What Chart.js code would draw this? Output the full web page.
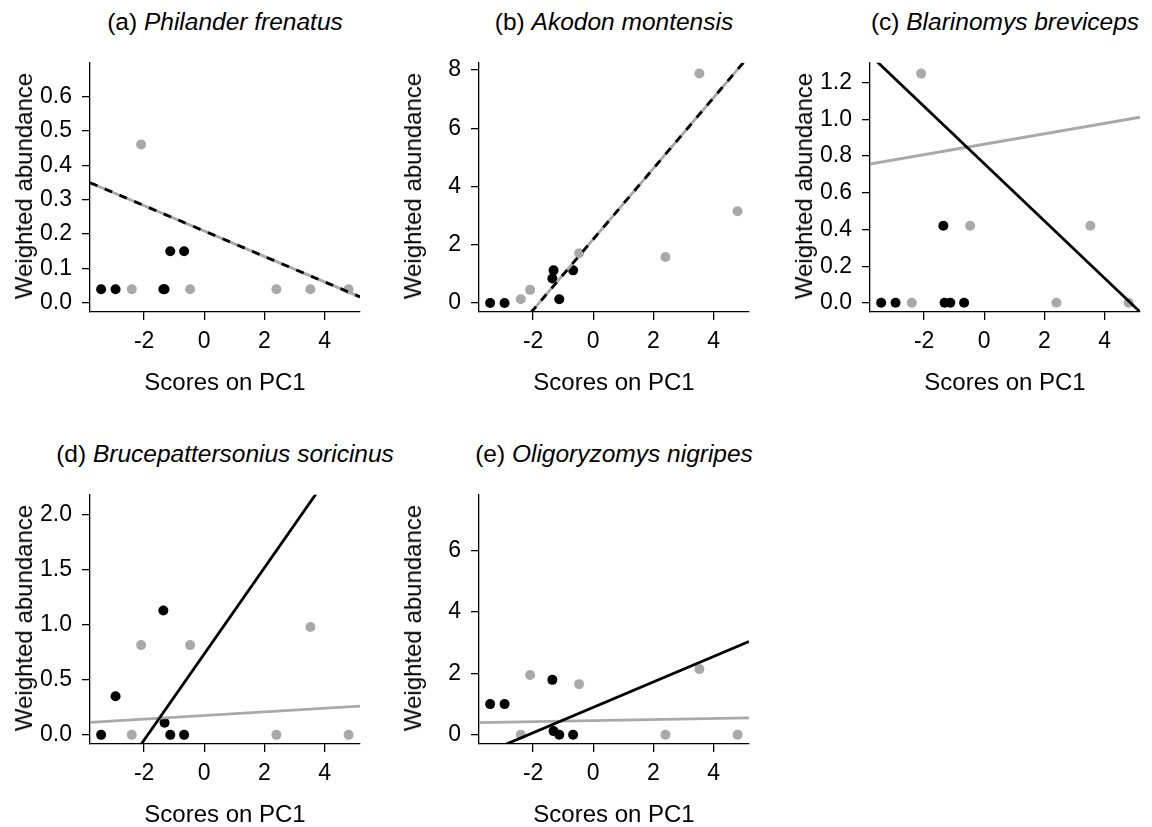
<!DOCTYPE html>
<html lang="en">
<head>
<meta charset="UTF-8">
<title>Weighted abundance vs PC1 scores</title>
<script src="https://cdn.jsdelivr.net/npm/chart.js"></script>
<style>
  html, body { margin: 0; padding: 0; background: #fff; overflow: hidden; }
  #fig { position: relative; width: 1152px; height: 827px; font-family: 'Liberation Sans', Arial, Helvetica, sans-serif; color: #000; }
  #fig canvas { position: absolute; }
  .lbl { position: absolute; font-size: 24px; line-height: 1; white-space: nowrap; }
</style>
</head>
<body>
<div id="fig"></div>

<script>
// site scores on PC1 (black = one habitat group, grey = the other)
const blackX = [-3.43, -2.95, -1.36, -1.32, -1.13, -0.67];
const greyX  = [-2.41, -2.10, -0.47, 2.40, 3.53, 4.80];

const species = ['Philander frenatus', 'Akodon montensis', 'Blarinomys breviceps',
                 'Brucepattersonius soricinus', 'Oligoryzomys nigripes'];
const letters = ['a', 'b', 'c', 'd', 'e'];

// weighted abundance per species
const philanderBlack = [0.04, 0.04, 0.04, 0.04, 0.15, 0.15];
const philanderGrey  = [0.04, 0.46, 0.04, 0.04, 0.04, 0.04];
const akodonBlack    = [0, 0, 0.84, 1.12, 0.13, 1.12];
const akodonGrey     = [0.13, 0.45, 1.71, 1.58, 7.88, 3.15];
const blarinomysBlack = [0, 0, 0.42, 0, 0, 0];
const blarinomysGrey  = [0, 1.25, 0.42, 0, 0.42, 0];
const bruceBlack     = [0, 0.35, 1.13, 0.11, 0, 0];
const bruceGrey      = [0, 0.815, 0.815, 0, 0.98, 0];
const oligoBlack     = [1.0, 1.0, 1.79, 0.12, 0, 0];
const oligoGrey      = [0, 1.95, 1.65, 0, 2.14, 0];

// fitted lines (intercept, slope)
const blackIntercept = [0.209, 2.19, 0.759, 0.735, 0.894];
const blackSlope     = [-0.0369, 1.215, -0.156, 0.391, 0.414];
const greyIntercept  = [0.209, 2.19, 0.865, 0.176, 0.46];
const greySlope      = [-0.0369, 1.215, 0.0284, 0.0164, 0.017];
const sameFit        = [true, true, false, false, false];

// tick labels
const xTicks = [-2, 0, 2, 4];
const yTicks = [
  [0, 0.1, 0.2, 0.3, 0.4, 0.5, 0.6],
  [0, 2, 4, 6, 8],
  [0, 0.2, 0.4, 0.6, 0.8, 1.0, 1.2],
  [0, 0.5, 1.0, 1.5, 2.0],
  [0, 2, 4, 6]
];
const yDecimals = [1, 0, 1, 1, 0];

const blackVals = [philanderBlack, akodonBlack, blarinomysBlack, bruceBlack, oligoBlack];
const greyVals  = [philanderGrey, akodonGrey, blarinomysGrey, bruceGrey, oligoGrey];

// axis ranges
const xMin = -3.8, xMax = 5.18;
const yMins = [-0.026, -0.31, -0.05, -0.083, -0.30];
const yMaxs = [0.697, 8.25, 1.309, 2.18, 7.82];

// plot areas on the page: left, top
const plotPos = [[90, 59], [479, 59], [870, 59], [90, 491], [479, 491]];
const plotW = 270, plotH = 253;
const padL = 90, padT = 20, padR = 15, padB = 60;

const GREY = '#a9a9a9';
Chart.defaults.font.family = "'Liberation Sans', Arial, Helvetica, sans-serif";
Chart.defaults.color = '#000';

const fig = document.getElementById('fig');

function addLabel(html, x, baseline, rotate, size) {
  const d = document.createElement('div');
  d.className = 'lbl';
  d.innerHTML = html;
  if (size) d.style.fontSize = size + 'px';
  fig.appendChild(d);
  const fs = size || 24;
  const off = fs * 0.8465;
  if (rotate) {
    // baseline sits on the right side after rotation
    d.style.left = (x - (off - fs / 2)) + 'px';
    d.style.top = baseline + 'px';
    d.style.transform = 'translate(-50%, -50%) rotate(-90deg)';
  } else {
    d.style.left = x + 'px';
    d.style.top = (baseline - off) + 'px';
    d.style.transform = 'translateX(-50%)';
  }
}

function pts(xs, ys) {
  return xs.map((x, i) => ({ x: x, y: ys[i] }));
}

function fitLine(a, b) {
  return [{ x: xMin, y: a + b * xMin }, { x: xMax, y: a + b * xMax }];
}

for (let p = 0; p < 5; p++) {
  const [L, T] = plotPos[p];
  const cv = document.createElement('canvas');
  cv.width = padL + plotW + padR;
  cv.height = padT + plotH + padB;
  cv.style.left = (L - padL) + 'px';
  cv.style.top = (T - padT) + 'px';
  fig.appendChild(cv);

  const datasets = [
    {
      data: fitLine(blackIntercept[p], blackSlope[p]),
      showLine: true, pointRadius: 0, borderColor: '#000', borderWidth: 2.8,
      borderDash: sameFit[p] ? [8, 8] : [], clip: 0, order: 0
    },
    {
      data: fitLine(greyIntercept[p], greySlope[p]),
      showLine: true, pointRadius: 0, borderColor: GREY, borderWidth: 2.8,
      clip: 0, order: 1
    },
    {
      data: pts(blackX, blackVals[p]),
      pointRadius: 5, backgroundColor: '#000', borderWidth: 0, clip: false, order: 2
    },
    {
      data: pts(greyX, greyVals[p]),
      pointRadius: 5, backgroundColor: GREY, borderWidth: 0, clip: false, order: 3
    }
  ];

  const axisCommon = {
    type: 'linear',
    grid: { drawOnChartArea: false, drawTicks: true, tickLength: 8, color: '#000', lineWidth: 1.3 },
    border: { display: true, color: '#000', width: 1.3 }
  };

  new Chart(cv.getContext('2d'), {
    type: 'scatter',
    data: { datasets: datasets },
    options: {
      responsive: false,
      animation: false,
      layout: { padding: { left: 0, top: padT, right: padR, bottom: 0 } },
      plugins: { legend: { display: false }, tooltip: { enabled: false } },
      scales: {
        x: Object.assign({}, axisCommon, {
          min: xMin, max: xMax,
          afterBuildTicks: s => { s.ticks = xTicks.map(v => ({ value: v })); },
          afterFit: s => { s.height = padB; },
          ticks: { font: { size: 23 }, color: '#000', padding: 8, maxRotation: 0, autoSkip: false,
                   callback: v => String(v) }
        }),
        y: Object.assign({}, axisCommon, {
          min: yMins[p], max: yMaxs[p],
          afterBuildTicks: s => { s.ticks = yTicks[p].map(v => ({ value: v })); },
          afterFit: s => { s.width = padL; },
          ticks: { font: { size: 23 }, color: '#000', padding: 10, autoSkip: false,
                   callback: v => Number(v).toFixed(yDecimals[p]) }
        })
      }
    }
  });

  // titles and axis labels
  addLabel('(' + letters[p] + ') <i>' + species[p] + '</i>', L + plotW / 2, T - 28, false, 24.5);
  addLabel('Scores on PC1', L + plotW / 2, T + 331, false);
  addLabel('Weighted abundance', L - 58, T + plotH / 2, true);
}
</script>
</body>
</html>
